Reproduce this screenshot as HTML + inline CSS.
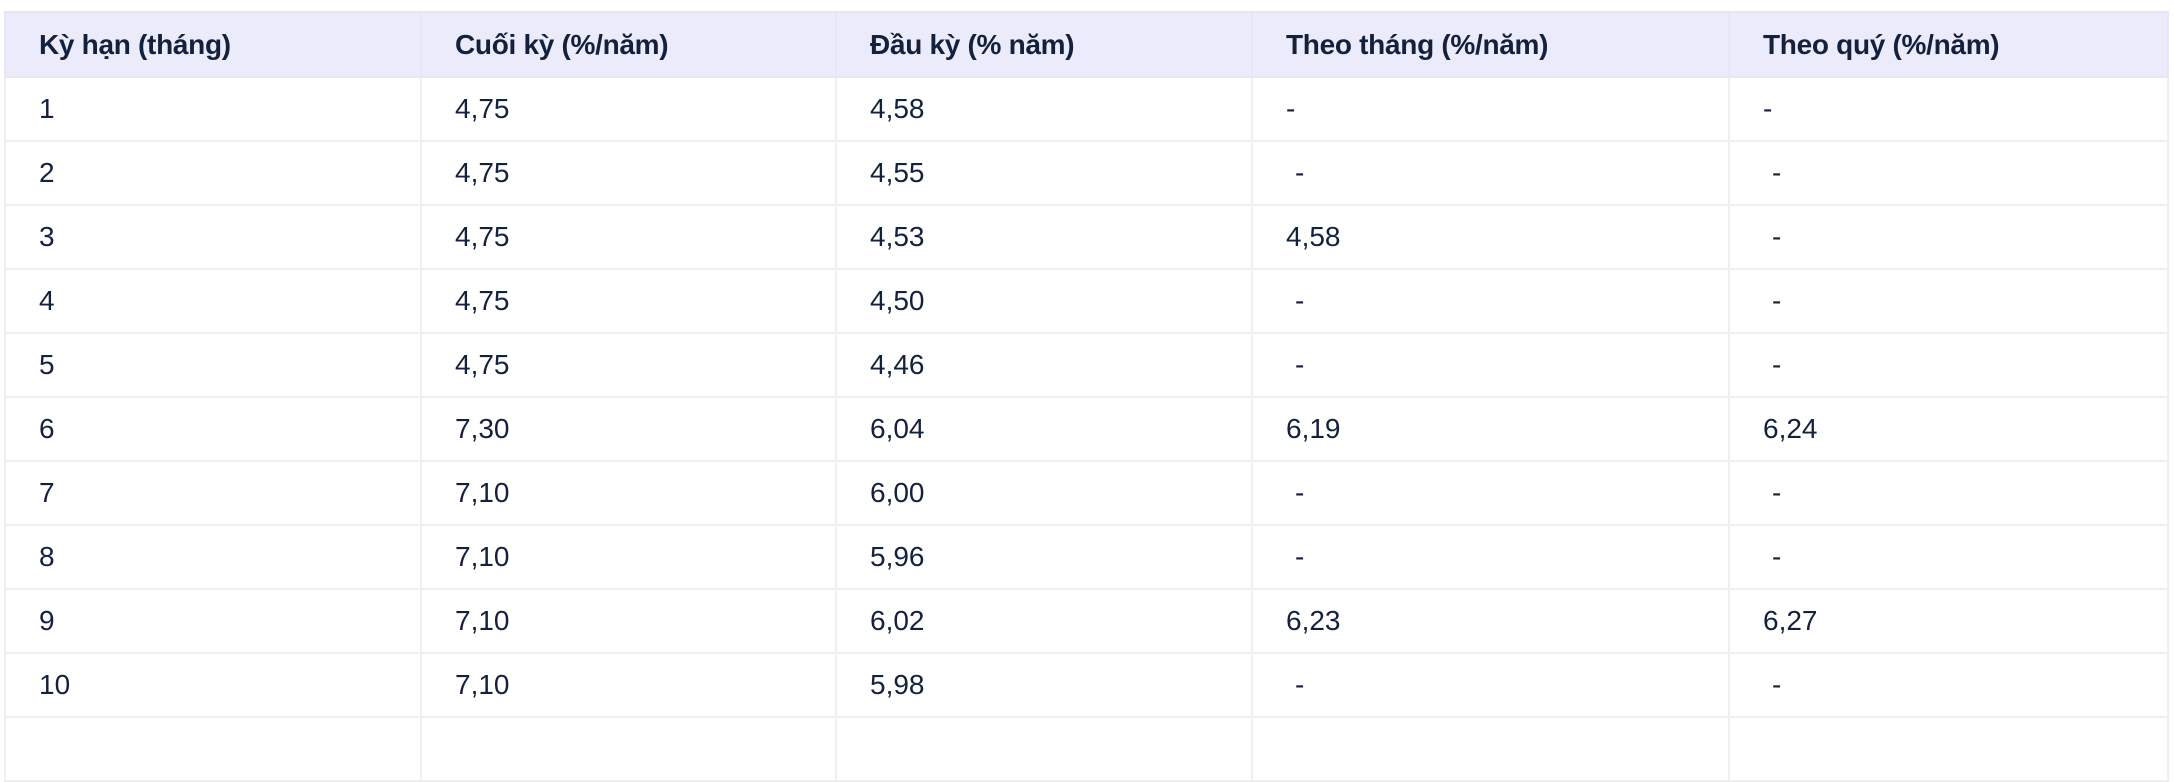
<!DOCTYPE html>
<html><head><meta charset="utf-8"><style>
html,body{margin:0;padding:0;background:#fff;}
body{width:2174px;height:728px;overflow:hidden;position:relative;font-family:"Liberation Sans","DejaVu Sans",sans-serif;color:#14213d;}
table{position:absolute;left:4px;top:11px;border-collapse:collapse;table-layout:fixed;width:2163px;}
td,th{border:2px solid #efeff3;height:60px;padding:0 0 0 33px;text-align:left;font-size:28px;vertical-align:middle;box-sizing:border-box;}
th{background:#ebebfb;font-weight:bold;height:65px;border-color:#e6e6f4;font-size:28px;letter-spacing:-0.3px;}
td{height:64px;}
.d{padding-left:42px;}
</style></head><body>
<table>
<colgroup><col style="width:416px"><col style="width:415px"><col style="width:416px"><col style="width:477px"><col style="width:439px"></colgroup>
<tr><th>Kỳ hạn (tháng)</th><th>Cuối kỳ (%/năm)</th><th>Đầu kỳ (% năm)</th><th>Theo tháng (%/năm)</th><th>Theo quý (%/năm)</th></tr>
<tr><td>1</td><td>4,75</td><td>4,58</td><td>-</td><td>-</td></tr>
<tr><td>2</td><td>4,75</td><td>4,55</td><td class="d">-</td><td class="d">-</td></tr>
<tr><td>3</td><td>4,75</td><td>4,53</td><td>4,58</td><td class="d">-</td></tr>
<tr><td>4</td><td>4,75</td><td>4,50</td><td class="d">-</td><td class="d">-</td></tr>
<tr><td>5</td><td>4,75</td><td>4,46</td><td class="d">-</td><td class="d">-</td></tr>
<tr><td>6</td><td>7,30</td><td>6,04</td><td>6,19</td><td>6,24</td></tr>
<tr><td>7</td><td>7,10</td><td>6,00</td><td class="d">-</td><td class="d">-</td></tr>
<tr><td>8</td><td>7,10</td><td>5,96</td><td class="d">-</td><td class="d">-</td></tr>
<tr><td>9</td><td>7,10</td><td>6,02</td><td>6,23</td><td>6,27</td></tr>
<tr><td>10</td><td>7,10</td><td>5,98</td><td class="d">-</td><td class="d">-</td></tr>
<tr><td>&nbsp;</td><td></td><td></td><td></td><td></td></tr>
</table>
</body></html>
